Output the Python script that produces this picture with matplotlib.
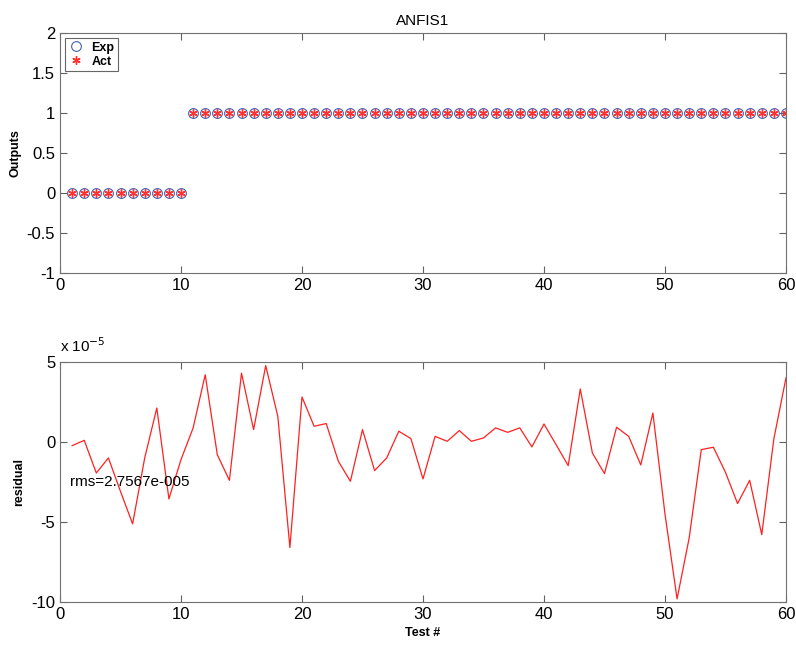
import numpy as np
import matplotlib
matplotlib.use('Agg')
import matplotlib.pyplot as plt

plt.rcParams['font.family'] = ['Liberation Sans', 'DejaVu Sans']
plt.rcParams['axes.unicode_minus'] = False

### test numbers and outputs
test_no = list(range(1, 61))
expected = [0] * 10 + [1] * 50
actual = [0] * 10 + [1] * 50

### residuals in units of 1e-5
residual = [-0.23, 0.10, -1.94, -1.00, -3.10, -5.12, -1.00, 2.12, -3.56, -1.10,
            0.87, 4.20, -0.80, -2.40, 4.30, 0.77, 4.77, 1.60, -6.60, 2.81,
            0.98, 1.15, -1.20, -2.46, 0.77, -1.79, -1.00, 0.67, 0.21, -2.31,
            0.35, 0.04, 0.71, 0.04, 0.25, 0.88, 0.60, 0.88, -0.31, 1.12,
            -0.17, -1.48, 3.31, -0.69, -1.98, 0.92, 0.35, -1.44, 1.81, -4.50,
            -9.81, -6.00, -0.48, -0.33, -1.90, -3.85, -2.40, -5.79, 0.20, 4.00]
rms_text = 'rms=2.7567e-005'

fig = plt.figure(figsize=(7.96, 6.47), dpi=100)
ax1 = fig.add_axes([0.0754, 0.578, 0.912, 0.371])
ax2 = fig.add_axes([0.0754, 0.0696, 0.912, 0.371])

### top plot: expected vs actual
ax1.plot(test_no, expected, linestyle='none', marker='o', markersize=7,
         markerfacecolor='none', markeredgecolor='#4060b0', markeredgewidth=0.8, label='Exp')
ax1.plot(test_no, actual, linestyle='none', marker=(6, 2, 0), markersize=6,
         color='#ff3030', markeredgewidth=1.0, label='Act')
ax1.set_xlim(0, 60)
ax1.set_ylim(-1, 2)
ax1.set_xticks([0, 10, 20, 30, 40, 50, 60])
ax1.set_yticks([-1, -0.5, 0, 0.5, 1, 1.5, 2])
ax1.set_yticklabels(['-1', '-0.5', '0', '0.5', '1', '1.5', '2'])
ax1.set_title('ANFIS1', fontsize=11, pad=6)
ax1.set_ylabel('Outputs', fontsize=9, fontweight='bold')
leg = ax1.legend(loc='upper left', prop={'size': 9, 'weight': 'bold'}, frameon=True,
                 fancybox=False, edgecolor='#404040', borderpad=0.3, handletextpad=0.6,
                 labelspacing=0.15, handlelength=1.2, borderaxespad=0.4)
leg.get_frame().set_linewidth(0.8)

### bottom plot: residuals
ax2.plot(test_no, residual, color='#ff2020', linewidth=0.9)
ax2.set_xlim(0, 60)
ax2.set_ylim(-10, 5)
ax2.set_xticks([0, 10, 20, 30, 40, 50, 60])
ax2.set_yticks([-10, -5, 0, 5])
ax2.set_ylabel('residual', fontsize=9, fontweight='bold')
ax2.set_xlabel('Test #', fontsize=9, fontweight='bold')
ax2.text(0.8, -2.5, rms_text, fontsize=11, va='center', ha='left')
ax2.text(0, 1.03, 'x 10$^{-5}$', transform=ax2.transAxes, fontsize=11,
         ha='left', va='bottom')

for ax in (ax1, ax2):
    ax.tick_params(direction='in', top=True, right=True, labelsize=12,
                   length=5, width=0.8, color='#606060')
    for s in ax.spines.values():
        s.set_color('#707070')
        s.set_linewidth(0.8)

plt.savefig('out.png', dpi=100)
